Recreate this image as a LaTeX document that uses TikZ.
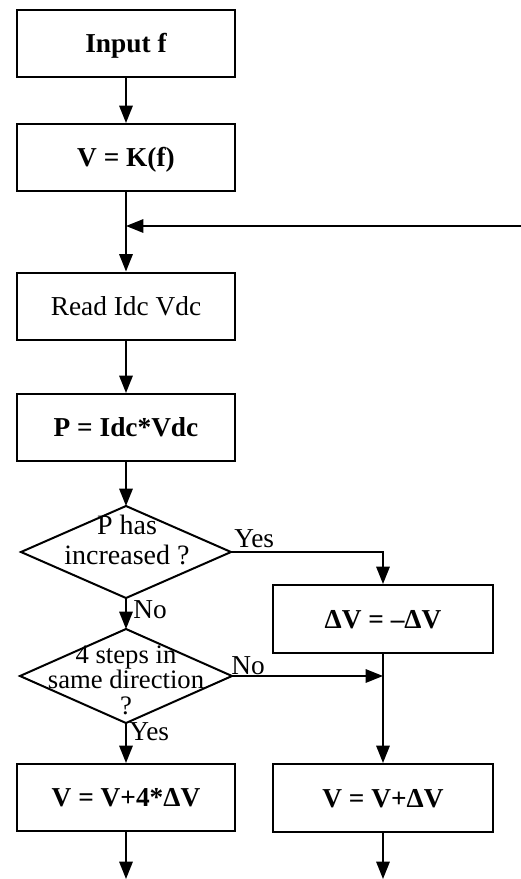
\documentclass[tikz,border=0pt]{standalone}
\usepackage{fontspec}
\setmainfont{Liberation Serif}
\usetikzlibrary{arrows.meta,shapes.geometric}
\begin{document}
\begin{tikzpicture}[x=0.75pt,y=-0.75pt,
  box/.style={draw, line width=1.5pt, minimum width=163.5pt, minimum height=50.25pt,
    inner sep=0pt, text height=14pt, text depth=0pt,
    font=\fontsize{20.5}{22}\selectfont\bfseries},
  rbox/.style={box, minimum width=165pt, minimum height=51pt},
  dia/.style={draw, line width=1.5pt, diamond, inner sep=0pt, outer sep=0pt},
  dtext/.style={align=center, inner sep=0pt},
  lbl/.style={inner sep=0pt, anchor=base west, font=\fontsize{20.5}{22}\selectfont},
  arr/.style={line width=1.5pt, -{Triangle[width=10pt,length=13pt]}},
  ln/.style={line width=1.5pt},
]
\useasboundingbox[fill=white] (0,0) rectangle (521,879);

% boxes, left column
\node[box] (b1) at (126,43) {Input f};
\node[box] (b2) at (126,157.5) {V = K(f)};
\node[box, font=\fontsize{20.5}{22}\selectfont] (b3) at (126,306) {Read Idc Vdc};
\node[box] (b4) at (126,427.5) {P = Idc*Vdc};

% decisions
\node[dia, minimum width=157.5pt, minimum height=69pt] (d1) at (126,552) {};
\node[dtext, font={\fontsize{21}{22.5}\selectfont}] (d1t) at (127,540) {P has\\increased ?};
\node[dia, minimum width=159pt, minimum height=70.5pt] (d2) at (126,676) {};
\node[dtext, font={\fontsize{20}{19.2}\selectfont\lineskiplimit=-20pt}] (d2t) at (126,680) {4 steps in\\same direction\\?};

\node[box] (b7) at (126,797.5) {V = V+4*ΔV};

% right column
\node[rbox] (b5) at (383,619) {ΔV = –ΔV};
\node[rbox] (b6) at (383,798) {V = V+ΔV};

% coordinates
\coordinate (jn) at (126,226);
\coordinate (fb) at (521,226);
\coordinate (j2) at (383,676);
\coordinate (out7) at (126,879);
\coordinate (out6) at (383,879);

% connectors
\draw[arr] (b1) -- (b2);
\draw[arr] (b2) -- (b3);
\draw[arr] (fb) -- (jn);
\draw[arr] (b3) -- (b4);
\draw[arr] (b4) -- (d1.north);
\draw[arr] (d1.east) -| (b5.north);
\draw[arr] (d1.south) -- (d2.north);
\draw[arr] (d2.east) -- (j2);
\draw[arr] (b5) -- (b6);
\draw[arr] (d2.south) -- (b7);
\draw[arr] (b7) -- (out7);
\draw[arr] (b6) -- (out6);

% labels
\node[lbl] (y1) at (234,547) {Yes};
\node[lbl] (n1) at (133,618) {No};
\node[lbl] (n2) at (231,674) {No};
\node[lbl] (y2) at (129,740) {Yes};
\end{tikzpicture}
\end{document}
